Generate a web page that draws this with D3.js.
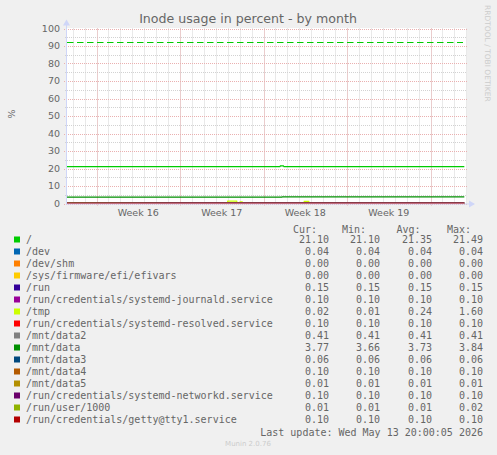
<!DOCTYPE html>
<html>
<head>
<meta charset="utf-8">
<script src="https://cdn.jsdelivr.net/npm/d3@7"></script>
<style>
  body { margin: 0; background: #f0f0f0; }
  svg { display: block; }
  text { fill: #666666; }
</style>
</head>
<body>
<script>
var width = 497,
    height = 455;

// Legend rows
var mounts = ['/', '/dev', '/dev/shm', '/sys/firmware/efi/efivars', '/run',
  '/run/credentials/systemd-journald.service', '/tmp',
  '/run/credentials/systemd-resolved.service', '/mnt/data2', '/mnt/data',
  '/mnt/data3', '/mnt/data4', '/mnt/data5',
  '/run/credentials/systemd-networkd.service', '/run/user/1000',
  '/run/credentials/getty@tty1.service'];
var colors = ['#00CC00', '#0066B3', '#FF8000', '#FFCC00', '#330099', '#990099',
  '#CCFF00', '#FF0000', '#808080', '#008F00', '#00487D', '#B35A00', '#B38F00',
  '#6B006B', '#8FB300', '#B30000'];
var cur  = [21.10, 0.04, 0.00, 0.00, 0.15, 0.10, 0.02, 0.10, 0.41, 3.77, 0.06, 0.10, 0.01, 0.10, 0.01, 0.10];
var mins = [21.10, 0.04, 0.00, 0.00, 0.15, 0.10, 0.01, 0.10, 0.41, 3.66, 0.06, 0.10, 0.01, 0.10, 0.01, 0.10];
var avgs = [21.35, 0.04, 0.00, 0.00, 0.15, 0.10, 0.24, 0.10, 0.41, 3.73, 0.06, 0.10, 0.01, 0.10, 0.01, 0.10];
var maxs = [21.49, 0.04, 0.00, 0.00, 0.15, 0.10, 1.60, 0.10, 0.41, 3.84, 0.06, 0.10, 0.01, 0.10, 0.02, 0.10];

// time range of the month graph
var startTime = '2026-04-10T12:39:00Z',
    lastTime = '2026-05-13T20:00:00Z',
    endTime = '2026-05-14T01:22:00Z';

// series that move over the month
var rootTrace = [[startTime, 21.10], ['2026-04-28T09:00:00Z', 21.10], ['2026-04-28T10:00:00Z', 21.49],
  ['2026-04-28T16:00:00Z', 21.49], ['2026-04-28T17:00:00Z', 21.10], [lastTime, 21.10]];
var dataTrace = [[startTime, 3.66], ['2026-04-28T13:00:00Z', 3.66], ['2026-04-28T14:00:00Z', 3.84],
  ['2026-05-05T00:00:00Z', 3.80], [lastTime, 3.77]];
var tmpTrace = [[startTime, 0.02], ['2026-04-23T23:00:00Z', 0.02], ['2026-04-24T00:00:00Z', 1.40],
  ['2026-04-24T18:00:00Z', 1.40], ['2026-04-24T19:00:00Z', 0.02], ['2026-04-25T00:00:00Z', 0.02],
  ['2026-04-25T01:00:00Z', 1.00], ['2026-04-25T05:00:00Z', 1.00], ['2026-04-25T06:00:00Z', 0.02],
  ['2026-04-30T09:00:00Z', 0.02], ['2026-04-30T10:00:00Z', 1.20], ['2026-04-30T19:00:00Z', 1.20],
  ['2026-04-30T20:00:00Z', 0.02], [lastTime, 0.02]];
var userTrace = [[startTime, 0.02], ['2026-04-20T00:00:00Z', 0.01], [lastTime, 0.01]];

var rootWarning = 92;
var yTicks = [0, 10, 20, 30, 40, 50, 60, 70, 80, 90, 100];

var svg = d3.select('body').append('svg')
    .attr('width', width)
    .attr('height', height);

svg.append('rect')
    .attr('width', width)
    .attr('height', height)
    .attr('fill', '#f0f0f0');

var pLeft = 67, pRight = 467, pTop = 28.5, pBottom = 203.5;

var x = d3.scaleUtc()
    .domain([new Date(startTime), new Date(endTime)])
    .range([pLeft, pRight]);
var y = d3.scaleLinear()
    .domain([0, 100])
    .range([pBottom, pTop]);

// canvas
svg.append('rect')
    .attr('x', pLeft)
    .attr('y', pTop - 0.5)
    .attr('width', pRight - pLeft)
    .attr('height', pBottom - pTop + 0.5)
    .attr('fill', '#ffffff');

var grid = svg.append('g').attr('class', 'grid');

// minor grid: every day and every 5 %
grid.selectAll('.vminor')
    .data(d3.utcDay.range(x.domain()[0], x.domain()[1]))
    .enter().append('line')
    .attr('x1', function(d) { return Math.round(x(d)) + 0.5; })
    .attr('x2', function(d) { return Math.round(x(d)) + 0.5; })
    .attr('y1', pTop)
    .attr('y2', pBottom + 1)
    .style('stroke', '#d2d2d2')
    .style('stroke-dasharray', '1,1');

grid.selectAll('.hminor')
    .data(d3.range(5, 100, 10))
    .enter().append('line')
    .attr('x1', pLeft - 2)
    .attr('x2', pRight)
    .attr('y1', function(d) { return Math.round(y(d)) + 0.5; })
    .attr('y2', function(d) { return Math.round(y(d)) + 0.5; })
    .style('stroke', '#d2d2d2')
    .style('stroke-dasharray', '1,1');

// major grid: mondays and every 10 %
var mondays = d3.utcMonday.range(x.domain()[0], x.domain()[1]);
grid.selectAll('.vmajor')
    .data(mondays)
    .enter().append('line')
    .attr('x1', function(d) { return Math.round(x(d)) + 0.5; })
    .attr('x2', function(d) { return Math.round(x(d)) + 0.5; })
    .attr('y1', pTop)
    .attr('y2', pBottom + 3)
    .style('stroke', '#eab0b0')
    .style('stroke-dasharray', '1,1');

grid.selectAll('.hmajor')
    .data(yTicks)
    .enter().append('line')
    .attr('x1', pLeft - 3)
    .attr('x2', pRight)
    .attr('y1', function(d) { return Math.round(y(d)) + 0.5; })
    .attr('y2', function(d) { return Math.round(y(d)) + 0.5; })
    .style('stroke', '#eab0b0')
    .style('stroke-dasharray', '1,1');

// y labels
svg.append('g').selectAll('text')
    .data(yTicks)
    .enter().append('text')
    .attr('x', 60)
    .attr('y', function(d) { return y(d) + 3.4; })
    .attr('text-anchor', 'end')
    .style('font', '9.5px "DejaVu Sans"')
    .text(function(d) { return d; });

// week labels in the middle of each week
var weekFmt = d3.utcFormat('%V');
svg.append('g').selectAll('text')
    .data(mondays.slice(0, -1))
    .enter().append('text')
    .attr('x', function(d) { return x(d3.utcHour.offset(d, 84)); })
    .attr('y', 216)
    .attr('text-anchor', 'middle')
    .style('font', '9.5px "DejaVu Sans"')
    .text(function(d) { return 'Week ' + (+weekFmt(d)); });

// warning line for /
svg.append('line')
    .attr('x1', pLeft)
    .attr('x2', pRight - 4)
    .attr('y1', Math.round(y(rootWarning)) + 0.5)
    .attr('y2', Math.round(y(rootWarning)) + 0.5)
    .style('stroke', colors[0])
    .style('stroke-width', 1.2)
    .style('stroke-dasharray', '6.5,3.5');

// series
var traces = mounts.map(function(m, i) {
  if (i === 0) return rootTrace;
  if (i === 6) return tmpTrace;
  if (i === 9) return dataTrace;
  if (i === 14) return userTrace;
  return [[startTime, cur[i]], [lastTime, cur[i]]];
});

var line = d3.line()
    .x(function(d) { return x(new Date(d[0])); })
    .y(function(d) { return y(d[1]); });

svg.append('g').selectAll('path')
    .data(traces)
    .enter().append('path')
    .attr('d', line)
    .attr('fill', 'none')
    .style('stroke', function(d, i) { return colors[i]; })
    .style('stroke-width', 1.2);

// axes with arrows
var axisColor = '#CFD6F8';
svg.append('line')
    .attr('x1', pLeft - 0.5).attr('x2', pLeft - 0.5)
    .attr('y1', pBottom + 1).attr('y2', pTop - 6)
    .style('stroke', axisColor);
svg.append('line')
    .attr('x1', pLeft - 1).attr('x2', pRight + 4)
    .attr('y1', pBottom + 0.5).attr('y2', pBottom + 0.5)
    .style('stroke', axisColor);
svg.append('path')
    .attr('d', 'M' + (pLeft - 4) + ',' + (pTop - 3) + 'L' + (pLeft - 0.5) + ',' + (pTop - 9) + 'L' + (pLeft + 3) + ',' + (pTop - 3) + 'Z')
    .attr('fill', axisColor);
svg.append('path')
    .attr('d', 'M' + (pRight + 2) + ',' + (pBottom - 3) + 'L' + (pRight + 8) + ',' + (pBottom + 0.5) + 'L' + (pRight + 2) + ',' + (pBottom + 4) + 'Z')
    .attr('fill', axisColor);

// title and side texts
svg.append('text')
    .attr('x', 248)
    .attr('y', 23)
    .attr('text-anchor', 'middle')
    .style('font', '12.6px "DejaVu Sans"')
    .text('Inode usage in percent - by month');

svg.append('text')
    .attr('transform', 'translate(15,114) rotate(-90)')
    .attr('text-anchor', 'middle')
    .style('font', '9.5px "DejaVu Sans"')
    .text('%');

svg.append('text')
    .attr('transform', 'translate(485,5) rotate(90)')
    .style('font', '7.5px "DejaVu Sans"')
    .style('fill', '#cccccc')
    .text('RRDTOOL / TOBI OETIKER');

svg.append('text')
    .attr('x', 248)
    .attr('y', 446)
    .attr('text-anchor', 'middle')
    .style('font', '7px "DejaVu Sans"')
    .style('fill', '#cccccc')
    .text('Munin 2.0.76');

// legend
var mono = '10px "DejaVu Sans Mono"';
var heads = [['Cur:', 293], ['Min:', 342], ['Avg:', 396.5], ['Max:', 447]];
svg.append('g').selectAll('text')
    .data(heads)
    .enter().append('text')
    .attr('x', function(d) { return d[1]; })
    .attr('y', 233)
    .style('font', mono)
    .text(function(d) { return d[0]; });

var rows = svg.append('g').selectAll('g')
    .data(mounts)
    .enter().append('g')
    .attr('transform', function(d, i) { return 'translate(0,' + (243 + i * 12) + ')'; });

rows.append('rect')
    .attr('x', 14)
    .attr('y', -6.5)
    .attr('width', 6)
    .attr('height', 6)
    .attr('fill', function(d, i) { return colors[i]; });

rows.append('text')
    .attr('x', 26)
    .style('font', mono)
    .text(function(d) { return d; });

var cols = [[cur, 329], [mins, 380], [avgs, 432], [maxs, 483]];
cols.forEach(function(c) {
  rows.append('text')
      .attr('x', c[1])
      .attr('text-anchor', 'end')
      .style('font', mono)
      .text(function(d, i) { return c[0][i].toFixed(2); });
});

svg.append('text')
    .attr('x', 483)
    .attr('y', 435.5)
    .attr('text-anchor', 'end')
    .style('font', mono)
    .text('Last update: Wed May 13 20:00:05 2026');
</script>
</body>
</html>
